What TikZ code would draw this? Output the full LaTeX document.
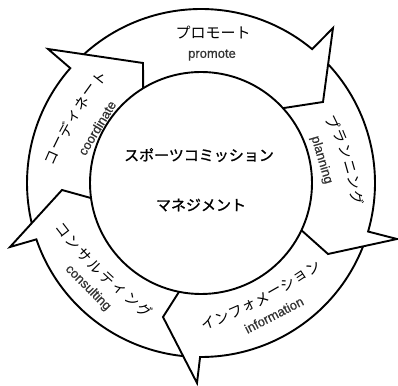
\documentclass[tikz,border=0pt]{standalone}
\usepackage{fontspec}
\newfontfamily\jpfont{Noto Sans CJK JP}
\newfontfamily\jpboldfont{Noto Sans CJK JP}[FakeBold=1.2]
\newfontfamily\enfont{Liberation Sans}[FakeBold=0.6]
\usetikzlibrary{calc}
\definecolor{engray}{HTML}{333333}
\newcommand\curvelabel[6]{%
  \path (#1) .. controls ($(#1)!2/3!(#2)$) and ($(#3)!2/3!(#2)$) .. (#3)
    foreach \c [count=\i from 0, evaluate=\i as \t using \i/#4] in {#5}
    {node[jpchar, pos=\t] (#6\i) {\c}};}
\begin{document}
\begin{tikzpicture}[x=1pt,y=1pt,
  ring/.style={line width=1.9pt, line join=miter},
  jptext/.style={font=\jpfont\fontsize{14.5}{14.5}\selectfont, inner sep=0pt},
  jpchar/.style={jptext, sloped, allow upside down},
  entext/.style={font=\enfont\fontsize{13}{13}\selectfont, text=engray, inner sep=0pt},
  hubtext/.style={font=\jpboldfont\fontsize{15}{15}\selectfont, inner sep=0pt}]
\useasboundingbox (0,0) rectangle (398,385);
\fill[white] (0,0) rectangle (398,385);
\begin{scope}[shift={(201,202)}]
  % hub circle
  \coordinate (hubc) at (0,0);
  \draw[ring] (hubc) circle[radius=111];
  \node[hubtext] (hub1) at (-2,28) {スポーツコミッション};
  \node[hubtext] (hub2) at (0,-22) {マネジメント};
  % promote arrow
  \coordinate (prB) at (132,155);
  \coordinate (prT) at (122,81);
  \draw[ring] (132.3:174) arc[start angle=132.3, end angle=50.3, radius=174]
     -- (prB) -- (prT) -- (42.4:111);
  % planning arrow
  \coordinate (plB) at (196,-56);
  \coordinate (plT) at (127,-71);
  \draw[ring] (43.07:174) arc[start angle=43.07, end angle=-16.2, radius=174]
     -- (plB) -- (plT) -- (-25.2:111);
  % information arrow
  \coordinate (inB) at (-4,-200);
  \coordinate (inT) at (-38,-134);
  \draw[ring] (-21.36:174) arc[start angle=-21.36, end angle=-90.3, radius=174]
     -- (inB) -- (inT) -- (-101.4:111);
  % consulting arrow
  \coordinate (coB) at (-191,-64);
  \coordinate (coT) at (-139,-7);
  \draw[ring] (-95.9:174) arc[start angle=-95.9, end angle=-161.1, radius=174]
     -- (coB) -- (coT) -- (187.8:111);
  % coordinate arrow
  \coordinate (cdB) at (-153,134);
  \coordinate (cdT) at (-58,120);
  \draw[ring] (193.36:174) arc[start angle=193.36, end angle=138.7, radius=174]
     -- (cdB) -- (cdT) -- (121.4:111);
  % labels
  \node[jptext, font=\jpfont\fontsize{15}{15}\selectfont] (prJ) at (12,150) {プロモート};
  \node[entext] (prE) at (11,128) {promote};
  \curvelabel{132,61}{149.7,24.8}{156,-15}{5}{プ,ラ,ン,ニ,ン,グ}{plJ}
  \node[entext, rotate=-73.5] (plE) at (120.5,23) {planning};
  \curvelabel{7,-140}{63.2,-119.6}{112,-85}{8}{イ,ン,フ,ォ,メ,ー,シ,ョ,ン}{inJ}
  \node[entext, rotate=27.3] (inE) at (73,-132) {information};
  \curvelabel{-138,-47}{-102.6,-92.7}{-56,-127}{7}{コ,ン,サ,ル,テ,ィ,ン,グ}{coJ}
  \node[entext, rotate=-45] (coE) at (-113,-105) {consulting};
  \curvelabel{-149,25}{-130.1,68.1}{-101,105}{6}{コ,ー,デ,ィ,ネ,ー,ト}{cdJ}
  \node[entext, rotate=59] (cdE) at (-104,55) {coordinate};
\end{scope}
\end{tikzpicture}
\end{document}
